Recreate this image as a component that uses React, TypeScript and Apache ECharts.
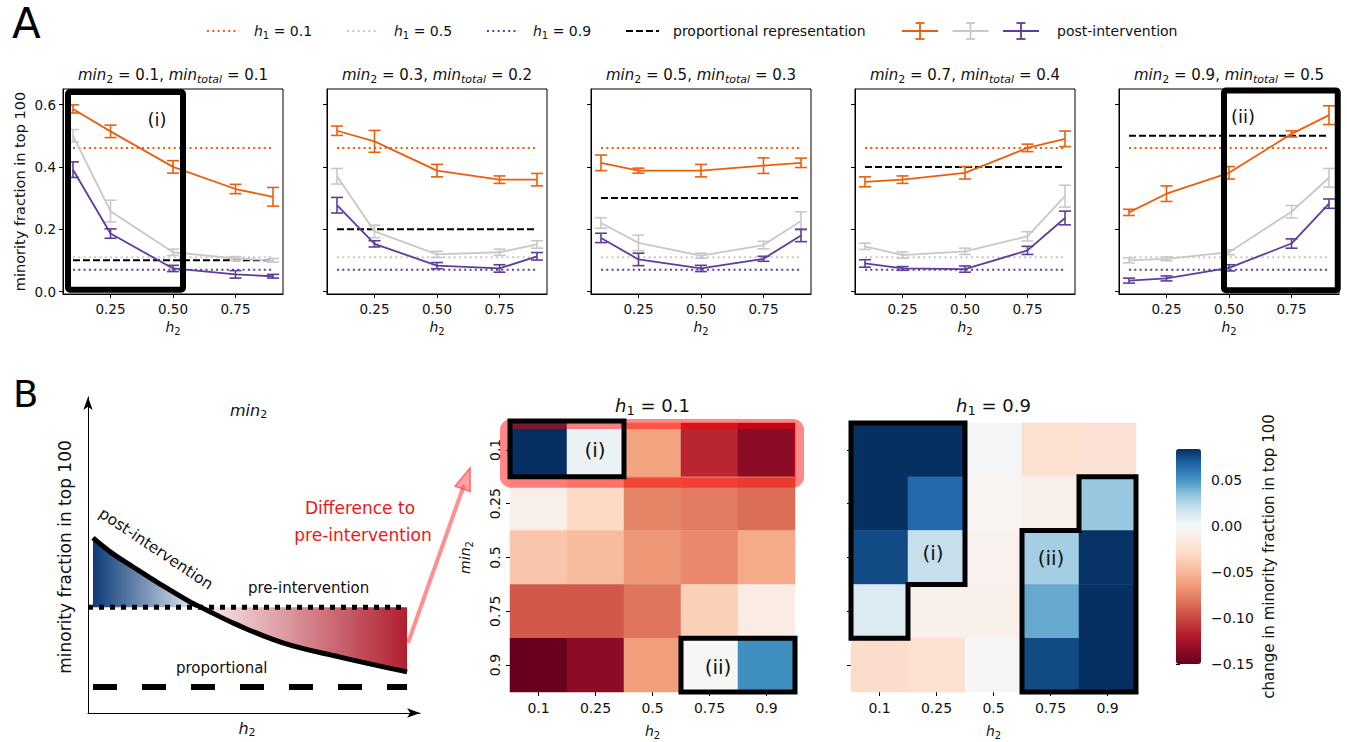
import React, { useEffect, useRef } from 'react';
import * as echarts from 'echarts';

const FONT = 'DejaVu Sans';
const TXT = '#111';

// ---------------- Panel A data ----------------
const h2Values = [0.1, 0.25, 0.5, 0.75, 0.9];
const panelMin2 = ['0.1', '0.3', '0.5', '0.7', '0.9'];
const panelMinTotal = ['0.1', '0.2', '0.3', '0.4', '0.5'];
const proportional = [0.1, 0.2, 0.3, 0.4, 0.5];
const h1Labels = ['0.1', '0.5', '0.9'];
const preIntervention = [0.461, 0.11, 0.07];

const postH1_01 = [
  [0.586, 0.514, 0.4, 0.329, 0.304],
  [0.516, 0.482, 0.388, 0.359, 0.359],
  [0.413, 0.388, 0.388, 0.404, 0.413],
  [0.352, 0.359, 0.381, 0.461, 0.49],
  [0.254, 0.314, 0.381, 0.506, 0.566],
];
const errH1_01 = [
  [0.013, 0.02, 0.02, 0.015, 0.03],
  [0.015, 0.035, 0.02, 0.012, 0.02],
  [0.025, 0.008, 0.02, 0.025, 0.015],
  [0.016, 0.012, 0.02, 0.012, 0.025],
  [0.01, 0.025, 0.02, 0.01, 0.03],
];
const postH1_05 = [
  [0.5, 0.258, 0.126, 0.106, 0.1],
  [0.37, 0.193, 0.119, 0.126, 0.151],
  [0.22, 0.156, 0.115, 0.149, 0.226],
  [0.145, 0.117, 0.129, 0.177, 0.306],
  [0.1, 0.105, 0.126, 0.256, 0.365],
];
const errH1_05 = [
  [0.02, 0.035, 0.01, 0.006, 0.006],
  [0.025, 0.02, 0.01, 0.01, 0.012],
  [0.017, 0.025, 0.008, 0.012, 0.03],
  [0.01, 0.01, 0.01, 0.015, 0.035],
  [0.008, 0.006, 0.008, 0.02, 0.03],
];
const postH1_09 = [
  [0.391, 0.186, 0.074, 0.055, 0.049],
  [0.277, 0.153, 0.083, 0.074, 0.113],
  [0.172, 0.103, 0.074, 0.105, 0.18],
  [0.09, 0.074, 0.072, 0.132, 0.236],
  [0.035, 0.042, 0.076, 0.154, 0.282],
];
const errH1_09 = [
  [0.025, 0.015, 0.01, 0.012, 0.006],
  [0.025, 0.01, 0.01, 0.012, 0.012],
  [0.015, 0.02, 0.01, 0.008, 0.02],
  [0.012, 0.006, 0.01, 0.013, 0.022],
  [0.008, 0.008, 0.01, 0.015, 0.015],
];
const xTicksA = [0.25, 0.5, 0.75];
const yTicksA = [0, 0.2, 0.4, 0.6];

// ---------------- Panel B data ----------------
const heatCols = ['0.1', '0.25', '0.5', '0.75', '0.9']; // h2
const heatRows = ['0.1', '0.25', '0.5', '0.75', '0.9']; // min2
const diffH1_01 = [
  [0.084, 0.005, -0.06, -0.114, -0.135],
  [-0.009, -0.03, -0.075, -0.078, -0.084],
  [-0.042, -0.048, -0.066, -0.072, -0.057],
  [-0.093, -0.093, -0.081, -0.036, -0.012],
  [-0.15, -0.135, -0.063, -0.001, 0.052],
];
const diffH1_09 = [
  [0.084, 0.084, 0.001, -0.024, -0.022],
  [0.084, 0.066, -0.003, -0.008, 0.032],
  [0.076, 0.02, -0.006, 0.029, 0.083],
  [0.012, -0.007, -0.007, 0.043, 0.084],
  [-0.027, -0.024, 0.0, 0.076, 0.084],
];
const cbTicks = [-0.15, -0.1, -0.05, 0, 0.05];
const CB_MIN = -0.15;
const CB_MAX = 0.084;

// schematic (illustrative curve)
const schemX = [0.015, 0.072, 0.136, 0.217, 0.313, 0.34, 0.443, 0.587, 0.759, 0.961];
const schemPost = [0.554, 0.506, 0.462, 0.408, 0.348, 0.335, 0.282, 0.222, 0.177, 0.13];
const schemPre = 0.335;
const schemProp = 0.082;
const schemCross = 0.34;

// ---------------- layout ----------------
const PA_LEFT = 63, PA_STEP = 264, PA_TOP = 89, PA_W = 220, PA_H = 205;
const PA_XMIN = 0.06, PA_XMAX = 0.94, PA_YMIN = -0.008, PA_YMAX = 0.65;
const HM_LEFT = [510, 851], HM_TOP = 423, HM_W = 285, HM_H = 269;
const CB_LEFT = 1176, CB_TOP = 449, CB_W = 25, CB_H = 215;
const SC_LEFT = 88, SC_TOP = 397, SC_W = 332, SC_H = 316;

const COLORS = ['#e8600c', '#c8c8c8', '#5e3c99'];

const RDBU = ['#67001f', '#b2182b', '#d6604d', '#f4a582', '#fddbc7', '#f7f7f7', '#d1e5f0', '#92c5de', '#4393c3', '#2166ac', '#053061'];
function hex(h: string) {
  return [parseInt(h.slice(1, 3), 16), parseInt(h.slice(3, 5), 16), parseInt(h.slice(5, 7), 16)];
}
function rdbu(t: number) {
  const tt = Math.max(0, Math.min(1, t));
  const p = tt * 10;
  const i = Math.min(9, Math.floor(p));
  const f = p - i;
  const a = hex(RDBU[i]), b = hex(RDBU[i + 1]);
  const c = a.map((v, k) => Math.round(v + (b[k] - v) * f));
  return `rgb(${c[0]},${c[1]},${c[2]})`;
}
function twoSlope(v: number) {
  return v < 0 ? 0.5 + (0.5 * v) / -CB_MIN : 0.5 + (0.5 * v) / CB_MAX;
}
const N_STOPS = 64;
const vmColors = Array.from({ length: N_STOPS }, (_, k) => rdbu(twoSlope(CB_MIN + (k * (CB_MAX - CB_MIN)) / (N_STOPS - 1))));

function paX(i: number, x: number) {
  return PA_LEFT + i * PA_STEP + ((x - PA_XMIN) / (PA_XMAX - PA_XMIN)) * PA_W;
}
function paY(y: number) {
  return PA_TOP + ((PA_YMAX - y) / (PA_YMAX - PA_YMIN)) * PA_H;
}
const cellX = (g: number, c: number) => HM_LEFT[g] + (c * HM_W) / 5;
const cellY = (r: number) => HM_TOP + (r * HM_H) / 5;

function rich(fs: number) {
  const sfs = Math.round(fs * 0.7);
  const pad = Math.round(fs * 0.55);
  return {
    i: { fontStyle: 'italic', fontSize: fs, fontFamily: FONT, fill: TXT, color: TXT },
    n: { fontSize: fs, fontFamily: FONT, fill: TXT, color: TXT },
    s: { fontSize: sfs, fontFamily: FONT, fill: TXT, color: TXT, padding: [pad, 0, 0, 0] },
    si: { fontStyle: 'italic', fontSize: sfs, fontFamily: FONT, fill: TXT, color: TXT, padding: [pad, 0, 0, 0] },
  };
}

function makeErr(color: string, capHalf: number) {
  return (params: any, api: any) => {
    const x = api.value(0), lo = api.value(1), hi = api.value(2);
    const a = api.coord([x, lo]);
    const b = api.coord([x, hi]);
    const st = { stroke: color, lineWidth: 1.6 };
    return {
      type: 'group',
      children: [
        { type: 'line', shape: { x1: a[0], y1: a[1], x2: b[0], y2: b[1] }, style: st },
        { type: 'line', shape: { x1: a[0] - capHalf, y1: a[1], x2: a[0] + capHalf, y2: a[1] }, style: st },
        { type: 'line', shape: { x1: b[0] - capHalf, y1: b[1], x2: b[0] + capHalf, y2: b[1] }, style: st },
      ],
    };
  };
}

function buildOption() {
  const grid: any[] = [];
  const xAxis: any[] = [];
  const yAxis: any[] = [];
  const series: any[] = [];
  const graphic: any[] = [];
  const posts = [postH1_01, postH1_05, postH1_09];
  const errs = [errH1_01, errH1_05, errH1_09];

  // ---------- Panel A ----------
  for (let i = 0; i < 5; i++) {
    grid.push({ left: PA_LEFT + i * PA_STEP, top: PA_TOP, width: PA_W, height: PA_H, show: true, borderColor: '#000', borderWidth: 1 });
    xAxis.push({
      gridIndex: i, type: 'value', min: PA_XMIN, max: PA_XMAX,
      axisLine: { show: true, onZero: false, lineStyle: { color: '#000', width: 1 } },
      axisTick: { show: true, customValues: xTicksA, length: 4, lineStyle: { color: '#000' } },
      axisLabel: { customValues: xTicksA, formatter: (v: number) => v.toFixed(2), fontSize: 13.5, color: TXT, fontFamily: FONT, margin: 8 },
      splitLine: { show: false },
      name: '{i|h}{s|2}', nameLocation: 'middle', nameGap: 24,
      nameTextStyle: { rich: rich(14) },
    });
    yAxis.push({
      gridIndex: i, type: 'value', min: PA_YMIN, max: PA_YMAX,
      axisLine: { show: true, onZero: false, lineStyle: { color: '#000', width: 1 } },
      axisTick: { show: true, customValues: yTicksA, length: 4, lineStyle: { color: '#000' } },
      axisLabel: { show: i === 0, customValues: yTicksA, formatter: (v: number) => v.toFixed(1), fontSize: 13.5, color: TXT, fontFamily: FONT, margin: 7 },
      splitLine: { show: false },
      name: i === 0 ? 'minority fraction in top 100' : '',
      nameLocation: 'middle', nameGap: 36,
      nameTextStyle: { fontSize: 14.5, fontFamily: FONT, color: TXT },
    });
    // pre-intervention dotted lines
    for (let k = 0; k < 3; k++) {
      series.push({
        type: 'line', xAxisIndex: i, yAxisIndex: i, silent: true, symbol: 'none',
        data: [[h2Values[0], preIntervention[k]], [h2Values[4], preIntervention[k]]],
        lineStyle: { color: COLORS[k], width: 2, type: [2, 3.3] }, z: 2,
      });
    }
    // proportional representation dashed
    series.push({
      type: 'line', xAxisIndex: i, yAxisIndex: i, silent: true, symbol: 'none',
      data: [[h2Values[0], proportional[i]], [h2Values[4], proportional[i]]],
      lineStyle: { color: '#000', width: 2, type: [7, 3] }, z: 2,
    });
    for (const k of [1, 2, 0]) {
      series.push({
        type: 'line', xAxisIndex: i, yAxisIndex: i, silent: true, symbol: 'none',
        data: h2Values.map((x, j) => [x, posts[k][i][j]]),
        lineStyle: { color: COLORS[k], width: 1.8 }, itemStyle: { color: COLORS[k] }, z: 3,
      });
      series.push({
        type: 'custom', xAxisIndex: i, yAxisIndex: i, silent: true,
        data: h2Values.map((x, j) => [x, posts[k][i][j] - errs[k][i][j], posts[k][i][j] + errs[k][i][j]]),
        encode: { x: 0, y: [1, 2] },
        renderItem: makeErr(COLORS[k], 6),
        z: 3,
      });
    }
    graphic.push({
      type: 'text', x: PA_LEFT + i * PA_STEP + PA_W / 2, y: 75, z: 50,
      style: {
        text: `{i|min}{s|2}{n| = ${panelMin2[i]}, }{i|min}{si|total}{n| = ${panelMinTotal[i]}}`,
        rich: rich(15), align: 'center', verticalAlign: 'middle',
      },
    });
  }

  // ---------- heatmaps ----------
  const heatIdx: number[] = [];
  const mats = [diffH1_01, diffH1_09];
  for (let g = 0; g < 2; g++) {
    const gi = 5 + g;
    grid.push({ left: HM_LEFT[g], top: HM_TOP, width: HM_W, height: HM_H });
    xAxis.push({
      gridIndex: gi, type: 'category', data: heatCols,
      axisLine: { show: false },
      axisTick: { show: true, alignWithLabel: true, length: 4, lineStyle: { color: '#000' } },
      axisLabel: { fontSize: 14, color: TXT, fontFamily: FONT, margin: 9 },
      splitLine: { show: false },
      name: '{i|h}{s|2}', nameLocation: 'middle', nameGap: 30,
      nameTextStyle: { rich: rich(14) },
    });
    yAxis.push({
      gridIndex: gi, type: 'category', data: heatRows, inverse: true,
      axisLine: { show: false },
      axisTick: { show: true, alignWithLabel: true, length: 4, lineStyle: { color: '#000' } },
      axisLabel: { show: g === 0, rotate: 90, fontSize: 14, color: TXT, fontFamily: FONT, margin: 8 },
      splitLine: { show: false },
      name: g === 0 ? '{i|min}{s|2}' : '', nameLocation: 'middle', nameGap: 36, nameRotate: 90,
      nameTextStyle: { rich: rich(14) },
    });
    series.push({
      type: 'heatmap', xAxisIndex: gi, yAxisIndex: gi, silent: true,
      data: mats[g].flatMap((row, r) => row.map((v, c) => [c, r, v])),
      emphasis: { disabled: true },
    });
    heatIdx.push(series.length - 1);
    graphic.push({
      type: 'text', x: HM_LEFT[g] + HM_W / 2, y: 405, z: 50,
      style: { text: `{i|h}{s|1}{n| = ${h1Labels[g === 0 ? 0 : 2]}}`, rich: rich(18), align: 'center', verticalAlign: 'middle' },
    });
  }

  // ---------- colorbar axis ----------
  grid.push({ left: CB_LEFT, top: CB_TOP, width: CB_W, height: CB_H });
  xAxis.push({ gridIndex: 7, type: 'value', show: false, min: 0, max: 1 });
  yAxis.push({
    gridIndex: 7, type: 'value', min: CB_MIN, max: CB_MAX, position: 'right',
    axisLine: { show: false },
    axisTick: { show: true, customValues: cbTicks, length: 4, lineStyle: { color: '#000' } },
    axisLabel: {
      customValues: cbTicks, fontSize: 14, color: TXT, fontFamily: FONT, margin: 10,
      formatter: (v: number) => (v < -1e-9 ? '\u2212' : '') + Math.abs(v).toFixed(2),
    },
    splitLine: { show: false },
    name: 'change in minority fraction in top 100', nameLocation: 'middle', nameGap: 60, nameRotate: 90,
    nameTextStyle: { fontSize: 15, fontFamily: FONT, color: TXT },
  });

  // ---------- schematic ----------
  grid.push({ left: SC_LEFT, top: SC_TOP, width: SC_W, height: SC_H });
  const arrowAxis = {
    show: true, onZero: false, symbol: ['none', 'arrow'], symbolSize: [7, 13],
    lineStyle: { color: '#000', width: 1 },
  };
  xAxis.push({
    gridIndex: 8, type: 'value', min: 0, max: 1, axisLine: arrowAxis,
    axisTick: { show: false }, axisLabel: { show: false }, splitLine: { show: false },
  });
  yAxis.push({
    gridIndex: 8, type: 'value', min: 0, max: 1, axisLine: arrowAxis,
    axisTick: { show: false }, axisLabel: { show: false }, splitLine: { show: false },
  });
  const pts = schemX.map((x, j) => [x, schemPost[j]]);
  const SMOOTH = 0.4;
  series.push({
    type: 'line', xAxisIndex: 8, yAxisIndex: 8, silent: true, symbol: 'none', smooth: SMOOTH,
    data: pts.filter((p) => p[0] <= schemCross),
    lineStyle: { width: 0 },
    areaStyle: {
      origin: schemPre, opacity: 1,
      color: new echarts.graphic.LinearGradient(0, 0, 1, 0, [
        { offset: 0, color: '#0c3b77' },
        { offset: 1, color: '#eef2f7' },
      ]),
    },
  });
  series.push({
    type: 'line', xAxisIndex: 8, yAxisIndex: 8, silent: true, symbol: 'none', smooth: SMOOTH,
    data: pts.filter((p) => p[0] >= schemCross),
    lineStyle: { width: 0 },
    areaStyle: {
      origin: schemPre, opacity: 1,
      color: new echarts.graphic.LinearGradient(0, 0, 1, 0, [
        { offset: 0, color: '#f9eef0' },
        { offset: 1, color: '#b11f2f' },
      ]),
    },
  });
  series.push({
    type: 'line', xAxisIndex: 8, yAxisIndex: 8, silent: true, symbol: 'none',
    data: [[0, schemPre], [schemX[schemX.length - 1], schemPre]],
    lineStyle: { color: '#000', width: 5, type: [5, 6], cap: 'butt' },
  });
  series.push({
    type: 'line', xAxisIndex: 8, yAxisIndex: 8, silent: true, symbol: 'none',
    data: [[schemX[0], schemProp], [schemX[schemX.length - 1], schemProp]],
    lineStyle: { color: '#000', width: 6, type: [24, 25], cap: 'butt' },
  });
  series.push({
    type: 'line', xAxisIndex: 8, yAxisIndex: 8, silent: true, symbol: 'none', smooth: SMOOTH,
    data: pts,
    lineStyle: { color: '#000', width: 5, cap: 'butt' },
  });

  // ---------- graphics ----------
  const T = (x: number, y: number, text: string, fs: number, extra: any = {}) => ({
    type: 'text', x, y, z: 60, rotation: extra.rotation || 0,
    style: {
      text, fontSize: fs, fontFamily: FONT, fill: extra.fill || TXT,
      align: extra.align || 'left', verticalAlign: 'middle', fontStyle: extra.fontStyle || 'normal',
      ...(extra.rich ? { rich: extra.rich } : {}),
    },
  });
  graphic.push(T(12, 23, 'A', 42, { fill: '#000' }));
  graphic.push(T(13, 394, 'B', 37, { fill: '#000' }));

  // legend
  const LY = 31;
  const dotted = [[207, 239, 254], [347, 379, 394], [487, 519, 533]];
  dotted.forEach((d, k) => {
    graphic.push({ type: 'line', z: 60, shape: { x1: d[0], y1: LY, x2: d[1], y2: LY }, style: { stroke: COLORS[k], lineWidth: 2, lineDash: [2, 3.3] } });
    graphic.push(T(d[2], LY, `{i|h}{s|1}{n| = ${h1Labels[k]}}`, 14, { rich: rich(14) }));
  });
  graphic.push({ type: 'line', z: 60, shape: { x1: 626, y1: LY, x2: 659, y2: LY }, style: { stroke: '#000', lineWidth: 2, lineDash: [7, 3] } });
  graphic.push(T(673, LY, 'proportional representation', 14));
  [920, 970.5, 1021].forEach((cx, k) => {
    const st = { stroke: COLORS[k], lineWidth: 1.8 };
    graphic.push({ type: 'line', z: 60, shape: { x1: cx - 18, y1: LY, x2: cx + 18, y2: LY }, style: st });
    graphic.push({ type: 'line', z: 60, shape: { x1: cx, y1: LY - 8, x2: cx, y2: LY + 8 }, style: st });
    graphic.push({ type: 'line', z: 60, shape: { x1: cx - 4.5, y1: LY - 8, x2: cx + 4.5, y2: LY - 8 }, style: st });
    graphic.push({ type: 'line', z: 60, shape: { x1: cx - 4.5, y1: LY + 8, x2: cx + 4.5, y2: LY + 8 }, style: st });
  });
  graphic.push(T(1057, LY, 'post-intervention', 14));

  // panel A highlight boxes
  const box = (x1: number, y1: number, x2: number, y2: number, lw: number) => ({
    type: 'rect', z: 70, shape: { x: x1, y: y1, width: x2 - x1, height: y2 - y1, r: 2 },
    style: { fill: 'none', stroke: '#000', lineWidth: lw },
  });
  graphic.push(box(paX(0, 0.08), paY(0.64), paX(0, 0.54), paY(0.0055), 6));
  graphic.push(box(paX(4, 0.48), paY(0.645), paX(4, 0.935), paY(0.004), 6));
  graphic.push(T(157, 119, '(i)', 18, { align: 'center' }));
  graphic.push(T(1243, 116, '(ii)', 18, { align: 'center' }));

  // heatmap red ring
  graphic.push({
    type: 'rect', z: 65, shape: { x: HM_LEFT[0] - 5, y: HM_TOP + 1, width: HM_W + 9, height: (HM_H / 5) + 5, r: 6 },
    style: { fill: 'none', stroke: 'rgba(255,0,0,0.47)', lineWidth: 10 },
  });
  // heatmap black boxes
  const poly = (pp: number[][]) => ({
    type: 'polygon', z: 70, shape: { points: pp },
    style: { fill: 'none', stroke: '#000', lineWidth: 5, lineJoin: 'miter' },
  });
  graphic.push(poly([[cellX(0, 0), cellY(0) - 2], [cellX(0, 2), cellY(0) - 2], [cellX(0, 2), cellY(1)], [cellX(0, 0), cellY(1)]]));
  graphic.push(poly([[cellX(0, 3), cellY(4)], [cellX(0, 5), cellY(4)], [cellX(0, 5), cellY(5)], [cellX(0, 3), cellY(5)]]));
  graphic.push(poly([[cellX(1, 0), cellY(0)], [cellX(1, 2), cellY(0)], [cellX(1, 2), cellY(3)], [cellX(1, 1), cellY(3)], [cellX(1, 1), cellY(4)], [cellX(1, 0), cellY(4)]]));
  graphic.push(poly([[cellX(1, 3), cellY(2)], [cellX(1, 4), cellY(2)], [cellX(1, 4), cellY(1)], [cellX(1, 5), cellY(1)], [cellX(1, 5), cellY(5)], [cellX(1, 3), cellY(5)]]));
  graphic.push(T(595, 450, '(i)', 20, { align: 'center' }));
  graphic.push(T(718, 667, '(ii)', 20, { align: 'center' }));
  graphic.push(T(933, 553, '(i)', 20, { align: 'center' }));
  graphic.push(T(1051, 558, '(ii)', 20, { align: 'center' }));

  // schematic texts
  graphic.push(T(65, 557, 'minority fraction in top 100', 17, { align: 'center', rotation: Math.PI / 2 }));
  graphic.push(T(230, 410, '{i|min}{s|2}', 16, { rich: rich(16) }));
  graphic.push(T(247, 728, '{i|h}{s|2}', 16, { rich: rich(16), align: 'center' }));
  graphic.push(T(156, 549, 'post-intervention', 15.5, { align: 'center', rotation: -0.59 }));
  graphic.push(T(248, 588, 'pre-intervention', 15));
  graphic.push(T(176, 668, 'proportional', 15));
  graphic.push(T(360, 508, 'Difference to', 17, { align: 'center', fill: '#f01515' }));
  graphic.push(T(363, 535, 'pre-intervention', 17, { align: 'center', fill: '#f01515' }));

  // red arrow
  const tip = [470, 468];
  const base = [408, 643];
  const dx = tip[0] - base[0], dy = tip[1] - base[1];
  const L = Math.hypot(dx, dy);
  const ux = dx / L, uy = dy / L;
  const bx = tip[0] - 22 * ux, by = tip[1] - 22 * uy;
  graphic.push({
    type: 'line', z: 60, shape: { x1: base[0], y1: base[1], x2: bx + 4 * ux, y2: by + 4 * uy },
    style: { stroke: 'rgba(255,70,70,0.6)', lineWidth: 4 },
  });
  graphic.push({
    type: 'polygon', z: 60,
    shape: { points: [[tip[0], tip[1]], [bx - 8 * uy, by + 8 * ux], [bx + 8 * uy, by - 8 * ux]] },
    style: { fill: 'rgba(255,90,90,0.55)', stroke: 'rgba(255,60,60,0.7)', lineWidth: 1.5 },
  });

  return {
    animation: false,
    backgroundColor: '#fff',
    textStyle: { fontFamily: FONT },
    grid, xAxis, yAxis, series, graphic,
    visualMap: {
      type: 'continuous', min: CB_MIN, max: CB_MAX, seriesIndex: heatIdx,
      inRange: { color: vmColors }, show: true, calculable: false, hoverLink: false,
      orient: 'vertical', left: CB_LEFT, top: CB_TOP, itemWidth: CB_W, itemHeight: CB_H,
      padding: 0, text: null, showLabel: false,
    },
  };
}

export default function App() {
  const ref = useRef<HTMLDivElement>(null);
  useEffect(() => {
    if (!ref.current) return;
    const chart = echarts.init(ref.current, undefined, { renderer: 'svg' });
    chart.setOption(buildOption() as any);
    return () => chart.dispose();
  }, []);
  return <div ref={ref} style={{ position: 'absolute', left: 0, top: 0, width: 1347, height: 742 }} />;
}
